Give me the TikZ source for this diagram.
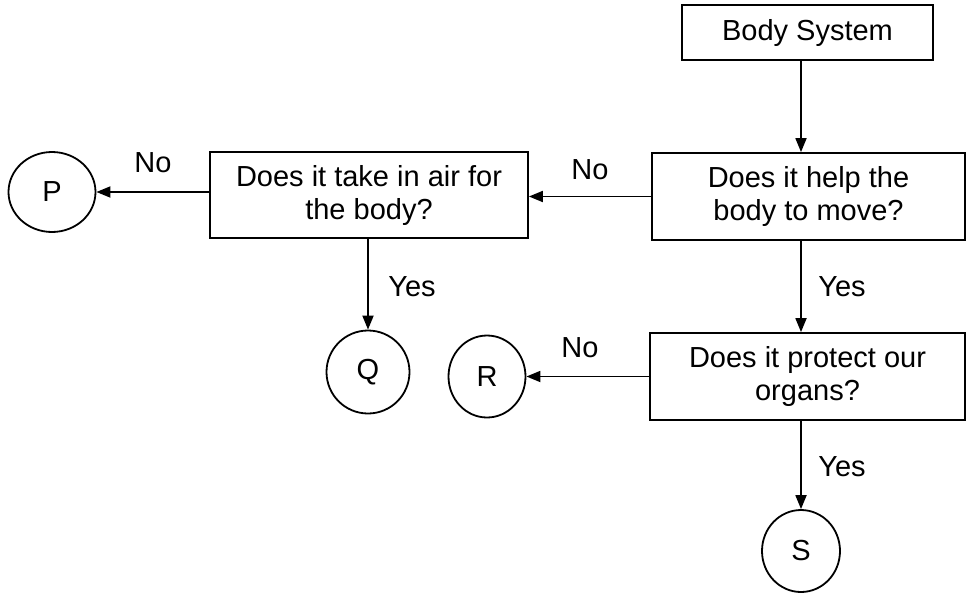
\documentclass[tikz,border=0pt]{standalone}
\usepackage{fontspec}
\setmainfont{Liberation Sans}
\usetikzlibrary{arrows.meta,shapes.geometric}
\begin{document}
\begin{tikzpicture}[x=1pt,y=-1pt,
  every node/.style={font=\fontsize{29}{33}\selectfont, inner sep=0pt},
  qbox/.style={draw, line width=1.8pt, rectangle, align=center},
  endc/.style={draw, line width=1.8pt, ellipse},
  arr/.style={line width=1.8pt, -{Triangle[length=14pt,width=11pt]}},
  lbl/.style={}]
\useasboundingbox (0,0) rectangle (966,592);
\node[qbox, minimum width=251pt, minimum height=55pt] (bs) at (807.5,32.5) {Body System};
\node[qbox, minimum width=313pt, minimum height=87pt] (move) at (808.5,196.5) {Does it help the\\body to move?};
\node[qbox, minimum width=318pt, minimum height=86pt] (air) at (369,195) {Does it take in air for\\the body?};
\node[qbox, minimum width=315pt, minimum height=87pt] (prot) at (807.5,376.5) {Does it protect our\\organs?};
\node[endc, minimum width=87pt, minimum height=80pt] (P) at (52,192) {P};
\node[endc, minimum width=83pt, minimum height=83pt] (Q) at (368,372) {Q};
\node[endc, minimum width=77pt, minimum height=82pt] (R) at (487,376.5) {R};
\node[endc, minimum width=78pt, minimum height=82pt] (S) at (801,551) {S};
\draw[arr] (bs.south -| S.north) -- (move.north -| S.north);
\draw[arr] (move.west) -- (move.west -| air.east);
\draw[arr] (air.west |- P.east) -- (P.east);
\draw[arr] (air.south -| Q.north) -- (Q.north);
\draw[arr] (move.south -| S.north) -- (prot.north -| S.north);
\draw[arr] (prot.west) -- (R.east);
\draw[arr] (prot.south -| S.north) -- (S.north);
\node[lbl] (n1) at (153,163) {No};
\node[lbl] (n2) at (590,170) {No};
\node[lbl] (n3) at (580,348) {No};
\node[lbl] (y1) at (412,287) {Yes};
\node[lbl] (y2) at (842,287) {Yes};
\node[lbl] (y3) at (842,467) {Yes};
\end{tikzpicture}
\end{document}
